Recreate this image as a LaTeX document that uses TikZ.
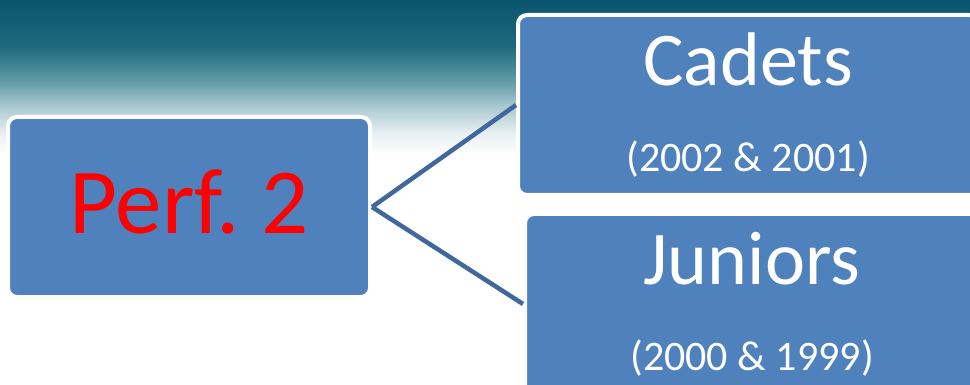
\documentclass[tikz,border=0pt]{standalone}
\usepackage{fontspec}
\setmainfont{Carlito}
\usetikzlibrary{positioning}

\definecolor{boxblue}{RGB}{79,129,189}
\definecolor{linkblue}{RGB}{64,104,158}
\definecolor{seaA}{RGB}{10,84,110}
\definecolor{seaB}{RGB}{30,106,124}
\definecolor{seaC}{RGB}{96,154,167}
\definecolor{seaD}{RGB}{175,204,210}
\definecolor{seaE}{RGB}{232,240,242}
\pgfdeclareverticalshading{seasky}{100bp}{color(0bp)=(white); color(25bp)=(white);
  color(32bp)=(seaE); color(40bp)=(seaD); color(49bp)=(seaC); color(60bp)=(seaB);
  color(75bp)=(seaA); color(100bp)=(seaA)}

\begin{document}
\begin{tikzpicture}[
  x=1pt, y=-1pt,
  group/.style={draw=white,line width=4pt,fill=boxblue,rounded corners=9pt,
    minimum height=180pt,align=center,text=white,inner sep=0pt},
  link/.style={draw=linkblue,line width=4.5pt}
]
  \clip (0,0) rectangle (970,385);
  \fill[white] (0,0) rectangle (970,385);
  \shade[shading=seasky] (0,0) rectangle (970,155);

  \node[group,minimum width=362pt,text=red,text depth=10pt,
    font=\fontsize{93}{93}\selectfont] (perf) at (189,207) {Perf.\ 2};
  \node[group,minimum width=460pt,font=\fontsize{42}{86}\selectfont] (cadets) at (748,105)
    {{\fontsize{76}{76}\selectfont Cadets}\\(2002 \& 2001)};
  \node[group,minimum width=454pt,font=\fontsize{42}{86}\selectfont] (juniors) at (752,304)
    {{\fontsize{76}{76}\selectfont Juniors}\\(2000 \& 1999)};

  \draw[link] (perf.east) -- (cadets.west);
  \draw[link] (perf.east) -- (juniors.west);
\end{tikzpicture}
\end{document}
